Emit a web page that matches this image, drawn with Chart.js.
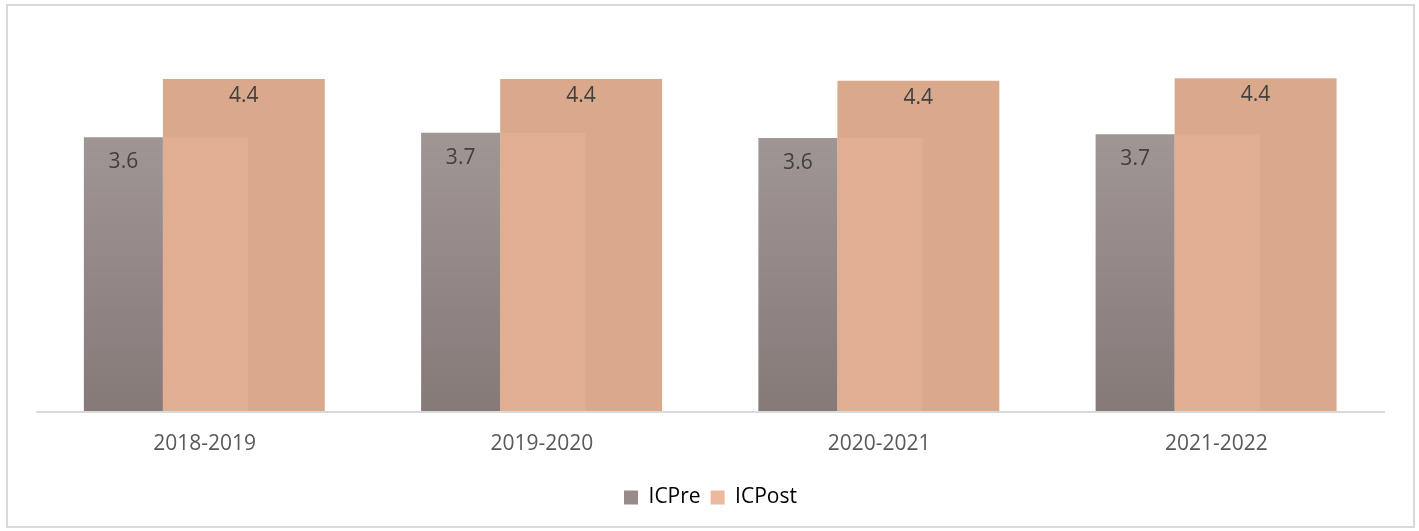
<!DOCTYPE html>
<html>
<head>
<meta charset="utf-8">
<script src="https://cdn.jsdelivr.net/npm/chart.js@4.4.0/dist/chart.umd.min.js"></script>
<style>
  html, body { margin: 0; padding: 0; background: #fff; }
  #wrap { position: relative; width: 1419px; height: 531px; }
  #frame { position: absolute; left: 6px; top: 4px; width: 1405px; height: 520px; border: 2px solid #d9d9d9; pointer-events: none; }
</style>
</head>
<body>
<div id="wrap">
  <canvas id="chart" width="1419" height="531"></canvas>
  <div id="frame"></div>
</div>
<script>
const categories = ['2018-2019', '2019-2020', '2020-2021', '2021-2022'];
const icPre = [3.62, 3.68, 3.61, 3.66];
const icPost = [4.39, 4.39, 4.37, 4.40];
const seriesNames = ['ICPre', 'ICPost'];

const FONT = "'Open Sans', sans-serif";
const LABEL_SHIFT = 21; // labels sit right of the bar pair in the original

// vertical gradient for the grey bars
function preFill(context) {
    const area = context.chart.chartArea;
    if (!area) return '#978c8a';
    const g = context.chart.ctx.createLinearGradient(0, area.top, 0, area.bottom);
    g.addColorStop(0, '#a9a09e');
    g.addColorStop(1, '#867a79');
    return g;
}

// axis line, lighter overlap patch and value labels
const decor = {
    id: 'decor',
    afterLayout(chart) {
        // the legend is centred under the labels, not the bars
        chart.legend.left += LABEL_SHIFT;
        chart.legend.right += LABEL_SHIFT;
    },
    beforeDatasetsDraw(chart) {
        const ctx = chart.ctx;
        const area = chart.chartArea;
        const y0 = chart.scales.y.getPixelForValue(0);
        ctx.save();
        ctx.strokeStyle = '#d9d9d9';
        ctx.lineWidth = 2;
        ctx.beginPath();
        ctx.moveTo(area.left + LABEL_SHIFT, y0 + 1);
        ctx.lineTo(area.right + LABEL_SHIFT, y0 + 1);
        ctx.stroke();
        ctx.restore();
    },
    afterDatasetsDraw(chart) {
        const ctx = chart.ctx;
        const pre = chart.getDatasetMeta(0).data;
        const post = chart.getDatasetMeta(1).data;
        ctx.save();
        // lighter patch on the orange bar where the grey one sits behind
        pre.forEach(bar => {
            const right = bar.x + bar.width / 2;
            ctx.fillStyle = 'rgba(232, 182, 155, 0.45)';
            ctx.fillRect(right, bar.y, bar.width * 1.08, bar.base - bar.y);
        });
        ctx.font = '21px ' + FONT;
        ctx.fillStyle = '#404040';
        ctx.textAlign = 'center';
        ctx.textBaseline = 'middle';
        pre.forEach((bar, i) => {
            ctx.fillText(icPre[i].toFixed(1), bar.x, bar.y + 25);
        });
        post.forEach((bar, i) => {
            ctx.fillText(icPost[i].toFixed(1), bar.x, bar.y + 17);
        });
        ctx.restore();
    }
};

new Chart(document.getElementById('chart'), {
    type: 'bar',
    data: {
        labels: categories,
        datasets: [
            {
                label: seriesNames[0],
                data: icPre,
                backgroundColor: preFill,
                barPercentage: 0.656,
                categoryPercentage: 0.7145
            },
            {
                label: seriesNames[1],
                data: icPost,
                backgroundColor: '#daa88b',
                barPercentage: 1.344,
                categoryPercentage: 0.7145
            }
        ]
    },
    options: {
        responsive: false,
        animation: false,
        layout: { padding: { left: 15, right: 55, top: 33, bottom: 13 } },
        scales: {
            x: {
                grid: { display: false, drawTicks: false },
                border: { display: false },
                ticks: {
                    color: '#595959',
                    font: { family: FONT, size: 21 },
                    padding: 20,
                    labelOffset: LABEL_SHIFT
                },
                afterFit: s => { s.height = 66; }
            },
            y: {
                display: false,
                min: 0,
                max: 5
            }
        },
        plugins: {
            legend: {
                position: 'bottom',
                labels: {
                    color: '#595959',
                    font: { family: FONT, size: 21 },
                    boxWidth: 14,
                    boxHeight: 14,
                    padding: 10,
                    generateLabels: chart => seriesNames.map((name, i) => ({
                        text: name,
                        fillStyle: i === 0 ? '#978c8a' : '#edb99d',
                        strokeStyle: 'transparent',
                        lineWidth: 0,
                        datasetIndex: i
                    }))
                }
            },
            tooltip: { enabled: false }
        }
    },
    plugins: [decor]
});
</script>
</body>
</html>
